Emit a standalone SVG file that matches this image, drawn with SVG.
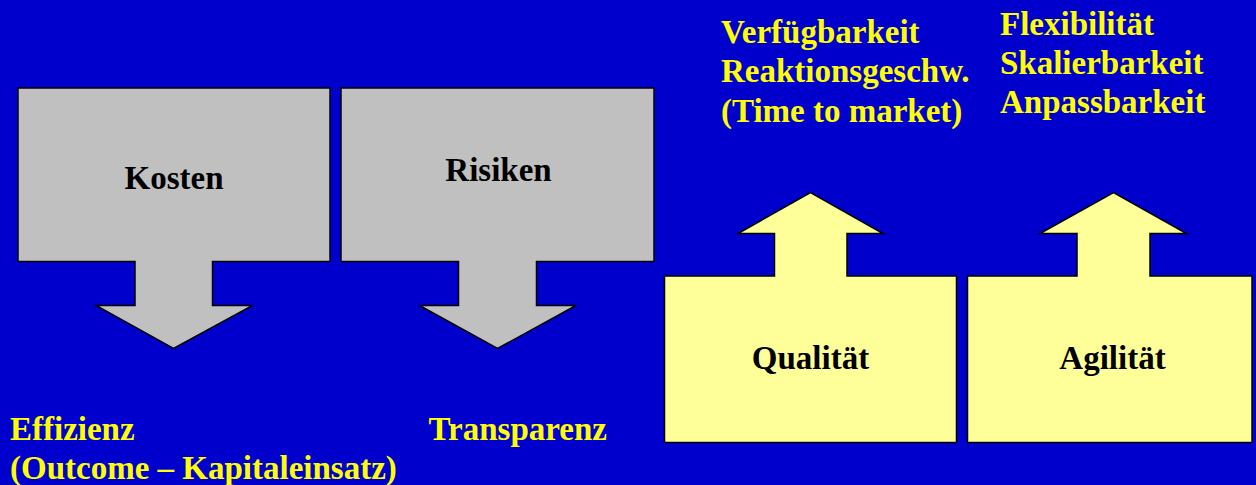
<svg xmlns="http://www.w3.org/2000/svg" width="1256" height="485" viewBox="0 0 1256 485">
<style>
.bg{fill:#0000CC}
.grey{fill:#C0C0C0;stroke:#000;stroke-width:1.5}
.yel{fill:#FFFF99;stroke:#000;stroke-width:1.5}
.lbl{font-family:"Liberation Serif","Times New Roman",serif;font-weight:bold;font-size:33px;fill:#000}
.note{font-family:"Liberation Serif","Times New Roman",serif;font-weight:bold;font-size:33px;fill:#FFFF00}
</style>
<rect class="bg" x="0" y="0" width="1256" height="485"/>
<g id="kosten">
<polygon class="grey" points="18,88 330,88 330,261.5 212.5,261.5 212.5,305.5 252.5,305.5 173.5,348.5 96,305.5 135,305.5 135,261.5 18,261.5"/>
<text class="lbl" x="174" y="189" text-anchor="middle">Kosten</text>
</g>
<g id="risiken">
<polygon class="grey" points="341,88 654,88 654,261.5 536.5,261.5 536.5,305.5 576,305.5 497.5,348.5 419.5,305.5 458.5,305.5 458.5,261.5 341,261.5"/>
<text class="lbl" x="498.5" y="181" text-anchor="middle">Risiken</text>
</g>
<g id="qualitaet">
<polygon class="yel" points="664.5,276 774.5,276 774.5,233.5 738,233.5 810.5,192.5 883,233.5 847,233.5 847,276 956.5,276 956.5,442.5 664.5,442.5"/>
<text class="lbl" x="810.5" y="368.5" text-anchor="middle">Qualität</text>
</g>
<g id="agilitaet">
<polygon class="yel" points="967.5,276 1077,276 1077,233.5 1040,233.5 1113.5,192.5 1186.5,233.5 1150,233.5 1150,276 1252,276 1252,442.5 967.5,442.5"/>
<text class="lbl" x="1112.5" y="368.5" text-anchor="middle">Agilität</text>
</g>
<g id="notes-qualitaet">
<text class="note" x="721" y="42.5">Verfügbarkeit</text>
<text class="note" x="721" y="82">Reaktionsgeschw.</text>
<text class="note" x="721" y="121.5">(Time to market)</text>
</g>
<g id="notes-agilitaet">
<text class="note" x="1000" y="35">Flexibilität</text>
<text class="note" x="1000" y="74">Skalierbarkeit</text>
<text class="note" x="1000" y="113">Anpassbarkeit</text>
</g>
<g id="notes-kosten">
<text class="note" x="10" y="440">Effizienz</text>
<text class="note" x="10" y="479">(Outcome – Kapitaleinsatz)</text>
</g>
<g id="notes-risiken">
<text class="note" x="428.5" y="439.5">Transparenz</text>
</g>
<g id="connectors"></g>
</svg>
